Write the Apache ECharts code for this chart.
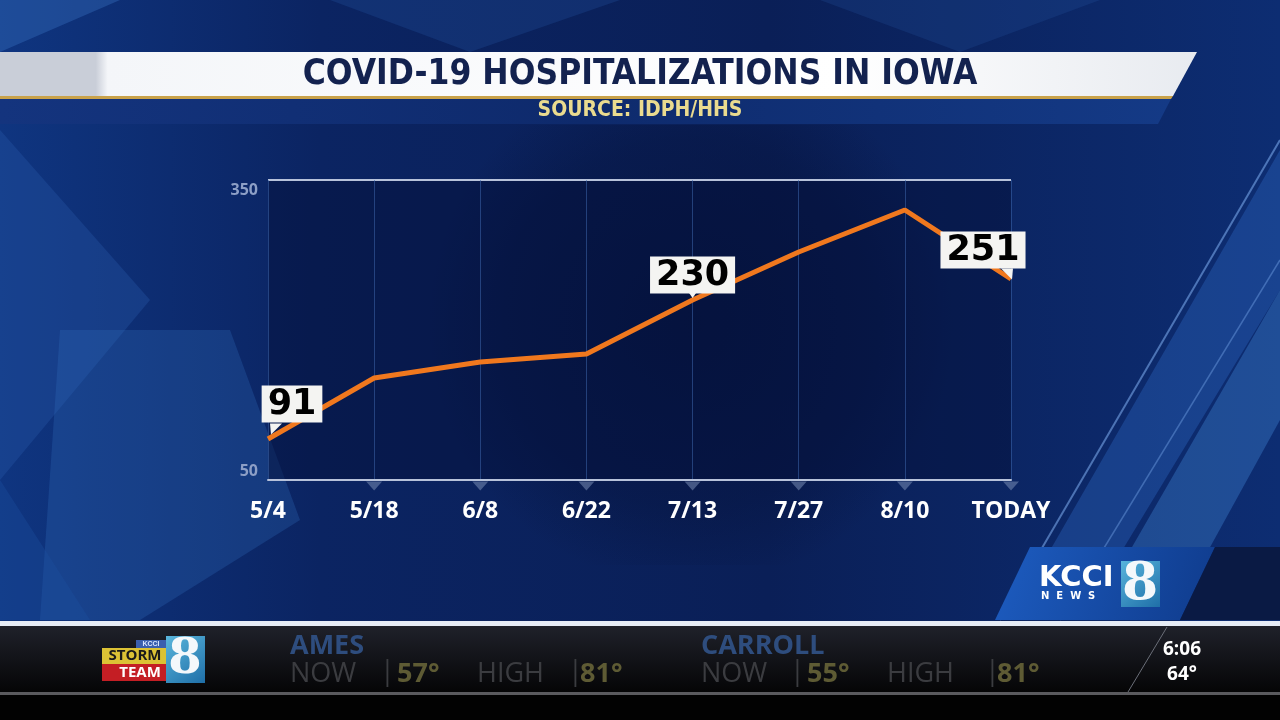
<!DOCTYPE html>
<html>
<head>
<meta charset="utf-8">
<style>
  html, body { margin: 0; padding: 0; background: #000; }
  #chart { width: 1280px; height: 720px; }
</style>
<script src="https://cdn.jsdelivr.net/npm/echarts@6/dist/echarts.min.js"></script>
</head>
<body>
<div id="chart"></div>
<script>
// chart data
const categories = ['5/4', '5/18', '6/8', '6/22', '7/13', '7/27', '8/10', 'TODAY'];
const hospitalized = [91, 152, 168, 176, 230, 278, 320, 251];
const yTicks = [50, 350];
// which points carry a value callout, and how the box sits next to the point
const calloutIdx = [0, 4, 7];
const calloutOffset = [[24, -16], [0, -6], [-28, -10]];
// pointer shapes under the callout boxes (tip left / middle / right)
const pointerPath = [
  'path://M0,0 L12,0 L1,11 Z',
  'path://M0,0 L14,0 L7,10 Z',
  'path://M0,0 L12,0 L11,11 Z',
];
const pointerSize = [[12, 11], [14, 10], [12, 11]];
const pointerOffset = [[8, -10], [0, -7], [-4, -5]];

const chart = echarts.init(document.getElementById('chart'));

const TITLE_FONT = '"DejaVu Sans Condensed", "Liberation Sans Narrow", "DejaVu Sans", sans-serif';
const BODY_FONT = '"Open Sans", "DejaVu Sans", sans-serif';

// callout boxes ride on an invisible scatter so the labels always show
const calloutData = calloutIdx.map((idx, k) => ({
  value: [idx, hospitalized[idx]],
  label: {
    show: true,
    position: 'top',
    distance: 0,
    offset: calloutOffset[k],
    formatter: String(hospitalized[idx]),
    backgroundColor: '#f4f4f2',
    color: '#000000',
    fontFamily: '"DejaVu Sans", sans-serif',
    fontWeight: 'bold',
    fontSize: 35,
    lineHeight: 36,
    padding: [1, 6, 0, 6],
  },
}));

const pointerData = calloutIdx.map((idx, k) => ({
  value: [idx, hospitalized[idx]],
  symbol: pointerPath[k],
  symbolSize: pointerSize[k],
  symbolOffset: pointerOffset[k],
}));

// little down-pointing notches under the baseline
const notchData = categories.slice(1).map((c, i) => [i + 1, yTicks[0]]);

// ---- backdrop pieces (broadcast frame) ----
const backdrop = [
  // base blue
  { type: 'rect', z: -20, shape: { x: 0, y: 0, width: 1280, height: 622 },
    style: { fill: new echarts.graphic.LinearGradient(0, 0, 1, 0, [
      { offset: 0, color: '#0f3580' }, { offset: 0.25, color: '#0b2462' },
      { offset: 0.6, color: '#0a1f57' }, { offset: 1, color: '#0d2d72' }]) } },
  // lighter facets on the left
  { type: 'polygon', z: -19, shape: { points: [[0, 130], [150, 300], [0, 480]] },
    style: { fill: 'rgba(40,90,170,0.35)' } },
  { type: 'polygon', z: -19, shape: { points: [[60, 330], [230, 330], [300, 520], [140, 620], [40, 620]] },
    style: { fill: 'rgba(50,110,190,0.28)' } },
  { type: 'polygon', z: -19, shape: { points: [[0, 480], [90, 620], [0, 620]] },
    style: { fill: 'rgba(30,80,160,0.35)' } },
  { type: 'polygon', z: -19, shape: { points: [[0, 0], [120, 0], [0, 52]] },
    style: { fill: 'rgba(60,120,200,0.35)' } },
  { type: 'polygon', z: -19, shape: { points: [[330, 0], [620, 0], [470, 52]] },
    style: { fill: 'rgba(40,90,170,0.25)' } },
  { type: 'polygon', z: -19, shape: { points: [[820, 0], [1100, 0], [960, 52]] },
    style: { fill: 'rgba(40,90,170,0.22)' } },
  // soft darker plot surround
  { type: 'rect', z: -18, shape: { x: 200, y: 125, width: 980, height: 440 },
    style: { fill: new echarts.graphic.RadialGradient(0.5, 0.45, 0.6, [
      { offset: 0, color: 'rgba(4,14,50,0.55)' }, { offset: 0.7, color: 'rgba(4,14,50,0.3)' },
      { offset: 1, color: 'rgba(4,14,50,0)' }]) } },
  // right side diagonal stripes
  { type: 'polygon', z: -19, shape: { points: [[1280, 150], [1280, 290], [1080, 620], [1010, 620]] },
    style: { fill: 'rgba(50,110,200,0.35)' } },
  { type: 'polygon', z: -19, shape: { points: [[1280, 290], [1280, 420], [1170, 620], [1090, 620]] },
    style: { fill: 'rgba(70,140,220,0.35)' } },
  { type: 'line', z: -17, shape: { x1: 1280, y1: 140, x2: 1000, y2: 620 },
    style: { stroke: 'rgba(140,190,255,0.5)', lineWidth: 2 } },
  { type: 'line', z: -17, shape: { x1: 1280, y1: 260, x2: 1060, y2: 620 },
    style: { stroke: 'rgba(140,190,255,0.35)', lineWidth: 1.5 } },

  // title banner
  { type: 'polygon', z: 5, shape: { points: [[0, 52], [1197, 52], [1173, 96], [0, 96]] },
    style: { fill: new echarts.graphic.LinearGradient(0, 0, 1, 0, [
      { offset: 0, color: '#c9ced8' }, { offset: 0.08, color: '#c9ced8' },
      { offset: 0.09, color: '#f4f6f9' }, { offset: 0.7, color: '#ffffff' }, { offset: 1, color: '#e8ebf0' }]) } },
  { type: 'polygon', z: 5, shape: { points: [[0, 96], [1173, 96], [1171, 99], [0, 99]] },
    style: { fill: '#c9a24a' } },
  { type: 'polygon', z: 5, shape: { points: [[0, 99], [1171, 99], [1158, 124], [0, 124]] },
    style: { fill: new echarts.graphic.LinearGradient(0, 0, 1, 0, [
      { offset: 0, color: '#14347e' }, { offset: 0.5, color: '#0e2a6c' }, { offset: 1, color: '#143a86' }]) } },
  { type: 'text', z: 6, x: 640, y: 75,
    style: { text: 'COVID-19 HOSPITALIZATIONS IN IOWA', fill: '#13224f', align: 'center', verticalAlign: 'middle',
      font: 'bold 35px ' + TITLE_FONT, shadowColor: 'rgba(0,0,0,0.35)', shadowBlur: 2, shadowOffsetY: 1 } },
  { type: 'text', z: 6, x: 640, y: 111,
    style: { text: 'SOURCE: IDPH/HHS', fill: '#eadb8f', align: 'center', verticalAlign: 'middle',
      font: 'bold 21px ' + TITLE_FONT } },

  // station bug
  { type: 'polygon', z: 4, shape: { points: [[1030, 547], [1215, 547], [1180, 620], [995, 620]] },
    style: { fill: new echarts.graphic.LinearGradient(0, 0, 1, 1, [
      { offset: 0, color: '#1d5cc0' }, { offset: 1, color: '#0f3b8c' }]) } },
  { type: 'polygon', z: 4, shape: { points: [[1215, 547], [1280, 547], [1280, 620], [1180, 620]] },
    style: { fill: '#0a1a44' } },
  { type: 'text', z: 6, x: 1039, y: 578,
    style: { text: 'KCCI', fill: '#ffffff', align: 'left', verticalAlign: 'middle', font: 'bold 29px "DejaVu Sans", sans-serif' } },
  { type: 'text', z: 6, x: 1041, y: 596,
    style: { text: 'N  E  W  S', fill: '#ffffff', align: 'left', verticalAlign: 'middle', font: 'bold 10px "DejaVu Sans", sans-serif' } },
  { type: 'rect', z: 5, shape: { x: 1121, y: 561, width: 39, height: 46 },
    style: { fill: new echarts.graphic.LinearGradient(0, 0, 1, 1, [
      { offset: 0, color: '#58b4dc' }, { offset: 1, color: '#1f6fa8' }]) } },
  { type: 'text', z: 6, x: 1140, y: 585,
    style: { text: '8', fill: '#f4f8fb', align: 'center', verticalAlign: 'middle', font: 'bold 52px "DejaVu Serif", serif' } },

  // ticker
  { type: 'rect', z: 4, shape: { x: 0, y: 621, width: 1280, height: 5 }, style: { fill: '#e6ecf6' } },
  { type: 'rect', z: 4, shape: { x: 0, y: 626, width: 1280, height: 66 },
    style: { fill: new echarts.graphic.LinearGradient(0, 0, 0, 1, [
      { offset: 0, color: '#1f212a' }, { offset: 1, color: '#050506' }]) } },
  { type: 'rect', z: 4, shape: { x: 0, y: 692, width: 1280, height: 3 }, style: { fill: '#5a5a5e' } },
  { type: 'rect', z: 4, shape: { x: 0, y: 695, width: 1280, height: 25 }, style: { fill: '#020202' } },
  { type: 'line', z: 5, shape: { x1: 1167, y1: 627, x2: 1128, y2: 692 },
    style: { stroke: '#6a6e78', lineWidth: 1 } },

  // storm team logo
  { type: 'rect', z: 5, shape: { x: 136, y: 640, width: 30, height: 8 }, style: { fill: '#3a5fae' } },
  { type: 'text', z: 6, x: 151, y: 644,
    style: { text: 'KCCI', fill: '#d8e4ff', align: 'center', verticalAlign: 'middle', font: 'bold 7px sans-serif' } },
  { type: 'rect', z: 5, shape: { x: 102, y: 648, width: 66, height: 16 }, style: { fill: '#dcc235' } },
  { type: 'rect', z: 5, shape: { x: 102, y: 664, width: 66, height: 17 }, style: { fill: '#c41e24' } },
  { type: 'text', z: 6, x: 135, y: 656,
    style: { text: 'STORM', fill: '#1a1a1a', align: 'center', verticalAlign: 'middle', font: 'bold 15px ' + BODY_FONT } },
  { type: 'text', z: 6, x: 140, y: 673,
    style: { text: 'TEAM', fill: '#ffffff', align: 'center', verticalAlign: 'middle', font: 'bold 15px ' + BODY_FONT } },
  { type: 'rect', z: 5, shape: { x: 166, y: 636, width: 39, height: 47 },
    style: { fill: new echarts.graphic.LinearGradient(0, 0, 1, 1, [
      { offset: 0, color: '#5ab6dc' }, { offset: 1, color: '#1f6fa8' }]) } },
  { type: 'text', z: 6, x: 185, y: 661,
    style: { text: '8', fill: '#f4f8fb', align: 'center', verticalAlign: 'middle', font: 'bold 48px "DejaVu Serif", serif' } },
];

// ticker text (dim, fading in)
const tick = (x, y, t, fill, weight) => ({
  type: 'text', z: 6, x, y,
  style: { text: t, fill, align: 'left', verticalAlign: 'middle', font: (weight || 'normal') + ' 27px ' + BODY_FONT },
});
const cityBlue = '#2e4d7e', dimGray = '#3b3c40', olive = '#5e5b34';
const tickerText = [
  tick(290, 646, 'AMES', cityBlue, 'bold'),
  tick(290, 674, 'NOW', dimGray), tick(380, 672, '|', dimGray), tick(397, 674, '57°', olive, 'bold'),
  tick(477, 674, 'HIGH', dimGray), tick(568, 672, '|', dimGray), tick(580, 674, '81°', olive, 'bold'),
  tick(701, 646, 'CARROLL', cityBlue, 'bold'),
  tick(701, 674, 'NOW', dimGray), tick(790, 672, '|', dimGray), tick(807, 674, '55°', olive, 'bold'),
  tick(887, 674, 'HIGH', dimGray), tick(985, 672, '|', dimGray), tick(997, 674, '81°', olive, 'bold'),
  { type: 'text', z: 6, x: 1182, y: 650,
    style: { text: '6:06', fill: '#ffffff', align: 'center', verticalAlign: 'middle', font: 'bold 19px ' + BODY_FONT } },
  { type: 'text', z: 6, x: 1182, y: 675,
    style: { text: '64°', fill: '#ffffff', align: 'center', verticalAlign: 'middle', font: 'bold 19px ' + BODY_FONT } },
];

const option = {
  backgroundColor: '#0b2260',
  animation: false,
  graphic: { elements: backdrop.concat(tickerText) },
  grid: {
    left: 268,
    right: 269,
    top: 180,
    bottom: 240,
    show: true,
    backgroundColor: 'rgba(4,16,58,0.5)',
    borderWidth: 0,
  },
  xAxis: {
    type: 'category',
    data: categories,
    boundaryGap: false,
    axisLine: { lineStyle: { color: '#b7c2da', width: 2 } },
    axisTick: { show: false },
    splitLine: { show: true, lineStyle: { color: 'rgba(60,100,170,0.55)', width: 1 } },
    axisLabel: {
      color: '#ffffff',
      fontFamily: BODY_FONT,
      fontWeight: 'bold',
      fontSize: 23,
      margin: 20,
    },
  },
  yAxis: {
    type: 'value',
    min: yTicks[0],
    max: yTicks[1],
    interval: yTicks[1] - yTicks[0],
    axisLine: { show: false },
    axisTick: { show: false },
    splitLine: { show: true, lineStyle: { color: '#b7c2da', width: 2 } },
    axisLabel: {
      margin: 10,
      formatter: (v) => (v === yTicks[1] ? '{hi|' + v + '}' : '{lo|' + v + '}'),
      rich: {
        hi: { color: '#8d9fc6', fontFamily: BODY_FONT, fontWeight: 'bold', fontSize: 16, padding: [20, 0, 0, 0] },
        lo: { color: '#8d9fc6', fontFamily: BODY_FONT, fontWeight: 'bold', fontSize: 16, padding: [0, 0, 18, 0] },
      },
    },
  },
  series: [
    {
      name: 'Hospitalizations',
      type: 'line',
      data: hospitalized,
      showSymbol: false,
      lineStyle: { color: '#f0781e', width: 5 },
      z: 3,
    },
    {
      name: 'pointers',
      type: 'scatter',
      data: pointerData,
      itemStyle: { color: '#f4f4f2', opacity: 1 },
      z: 4,
      silent: true,
    },
    {
      name: 'callouts',
      type: 'scatter',
      data: calloutData,
      symbol: 'circle',
      symbolSize: 1,
      itemStyle: { color: 'rgba(0,0,0,0)', opacity: 1 },
      z: 5,
      silent: true,
    },
    {
      name: 'notches',
      type: 'scatter',
      data: notchData,
      symbol: 'path://M0,0 L16,0 L8,9 Z',
      symbolSize: [16, 9],
      symbolOffset: [0, 6],
      itemStyle: { color: 'rgba(120,140,180,0.55)', opacity: 1 },
      z: 2,
      silent: true,
    },
  ],
};

chart.setOption(option);
</script>
</body>
</html>
